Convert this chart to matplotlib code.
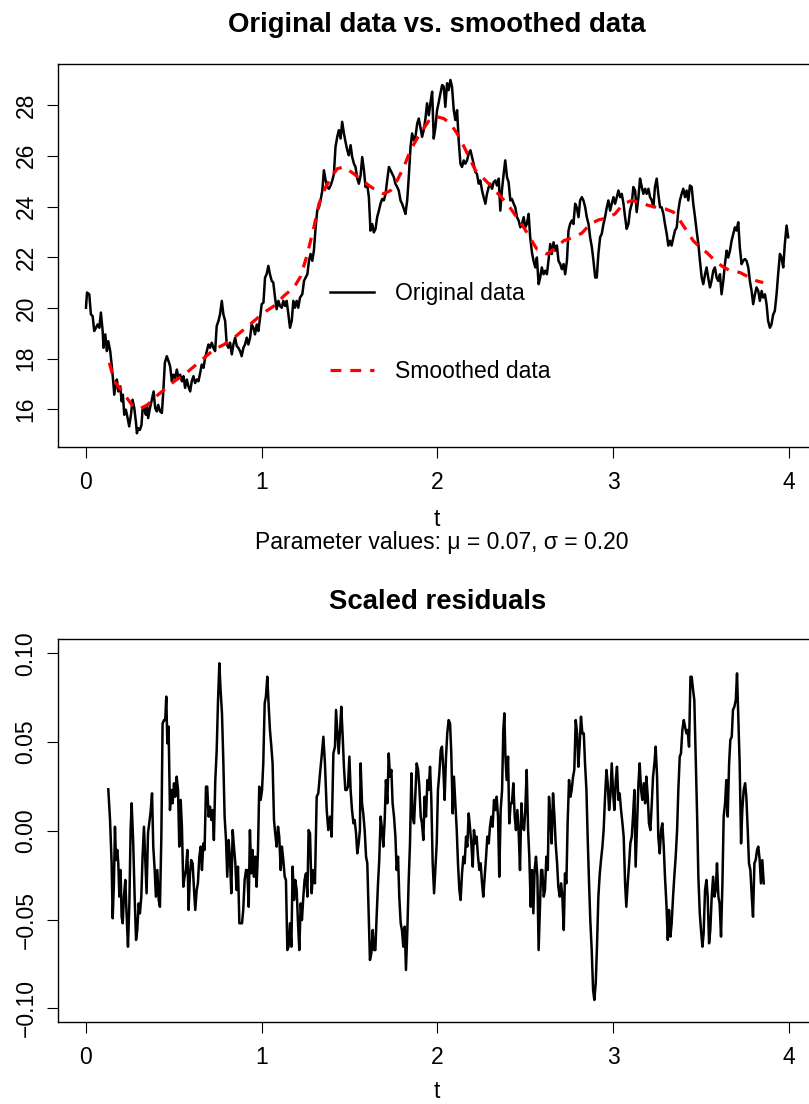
import numpy as np
import matplotlib
matplotlib.use("Agg")
import matplotlib.pyplot as plt

plt.rcParams['font.family'] = ['Liberation Sans', 'DejaVu Sans']

# ---------- Data ----------
t_orig = [
    0.000, 0.006, 0.019, 0.028, 0.038, 0.047, 0.057, 0.066, 0.076, 0.085,
    0.095, 0.100, 0.110, 0.119, 0.127, 0.138, 0.146, 0.155, 0.161, 0.171,
    0.176, 0.184, 0.195, 0.203, 0.210, 0.218, 0.227, 0.237, 0.246, 0.256,
    0.265, 0.275, 0.284, 0.290, 0.297, 0.307, 0.316, 0.322, 0.331, 0.341,
    0.347, 0.354, 0.364, 0.373, 0.385, 0.394, 0.403, 0.411, 0.422, 0.432,
    0.439, 0.449, 0.460, 0.470, 0.479, 0.489, 0.498, 0.508, 0.517, 0.527,
    0.536, 0.546, 0.555, 0.564, 0.574, 0.583, 0.593, 0.602, 0.612, 0.621,
    0.631, 0.640, 0.650, 0.659, 0.669, 0.678, 0.688, 0.697, 0.706, 0.716,
    0.725, 0.735, 0.744, 0.754, 0.763, 0.773, 0.782, 0.792, 0.801, 0.811,
    0.820, 0.830, 0.839, 0.849, 0.858, 0.867, 0.877, 0.886, 0.896, 0.905,
    0.915, 0.924, 0.934, 0.943, 0.953, 0.962, 0.972, 0.981, 0.991, 1.000,
    1.010, 1.019, 1.028, 1.038, 1.047, 1.057, 1.066, 1.076, 1.085, 1.095,
    1.104, 1.114, 1.123, 1.133, 1.142, 1.152, 1.161, 1.171, 1.180, 1.189,
    1.199, 1.208, 1.218, 1.231, 1.241, 1.250, 1.260, 1.269, 1.278, 1.288,
    1.297, 1.307, 1.316, 1.326, 1.335, 1.345, 1.354, 1.364, 1.373, 1.383,
    1.392, 1.402, 1.411, 1.420, 1.430, 1.439, 1.449, 1.458, 1.468, 1.477,
    1.487, 1.496, 1.506, 1.515, 1.525, 1.534, 1.544, 1.553, 1.563, 1.572,
    1.582, 1.591, 1.600, 1.610, 1.619, 1.629, 1.638, 1.648, 1.657, 1.667,
    1.676, 1.686, 1.695, 1.705, 1.714, 1.724, 1.733, 1.742, 1.752, 1.761,
    1.771, 1.780, 1.790, 1.799, 1.809, 1.818, 1.828, 1.837, 1.847, 1.856,
    1.866, 1.875, 1.885, 1.894, 1.903, 1.913, 1.922, 1.932, 1.941, 1.951,
    1.960, 1.970, 1.979, 1.989, 1.998, 2.008, 2.017, 2.027, 2.036, 2.045,
    2.055, 2.064, 2.074, 2.083, 2.093, 2.102, 2.112, 2.121, 2.131, 2.140,
    2.150, 2.159, 2.169, 2.178, 2.188, 2.197, 2.206, 2.216, 2.225, 2.235,
    2.244, 2.254, 2.263, 2.273, 2.282, 2.292, 2.301, 2.311, 2.320, 2.330,
    2.339, 2.349, 2.358, 2.367, 2.377, 2.386, 2.396, 2.405, 2.415, 2.424,
    2.434, 2.443, 2.453, 2.462, 2.472, 2.481, 2.491, 2.500, 2.509, 2.519,
    2.528, 2.538, 2.547, 2.557, 2.566, 2.576, 2.585, 2.594, 2.604, 2.613,
    2.623, 2.632, 2.642, 2.651, 2.661, 2.670, 2.680, 2.689, 2.699, 2.708,
    2.718, 2.727, 2.737, 2.746, 2.755, 2.765, 2.774, 2.784, 2.793, 2.803,
    2.812, 2.822, 2.831, 2.841, 2.850, 2.860, 2.869, 2.879, 2.888, 2.898,
    2.907, 2.916, 2.926, 2.935, 2.945, 2.954, 2.964, 2.973, 2.983, 2.992,
    3.002, 3.011, 3.021, 3.030, 3.040, 3.049, 3.059, 3.068, 3.077, 3.087,
    3.096, 3.106, 3.115, 3.125, 3.134, 3.144, 3.153, 3.163, 3.172, 3.182,
    3.191, 3.201, 3.210, 3.220, 3.229, 3.238, 3.248, 3.257, 3.267, 3.276,
    3.286, 3.295, 3.305, 3.314, 3.324, 3.333, 3.343, 3.352, 3.362, 3.371,
    3.380, 3.390, 3.399, 3.409, 3.418, 3.428, 3.437, 3.447, 3.456, 3.466,
    3.475, 3.485, 3.494, 3.504, 3.513, 3.523, 3.532, 3.541, 3.551, 3.560,
    3.570, 3.579, 3.589, 3.598, 3.608, 3.617, 3.627, 3.636, 3.646, 3.655,
    3.665, 3.674, 3.684, 3.693, 3.702, 3.712, 3.721, 3.731, 3.740, 3.750,
    3.759, 3.769, 3.778, 3.788, 3.797, 3.807, 3.816, 3.826, 3.835, 3.845,
    3.854, 3.864, 3.873, 3.882, 3.892, 3.901, 3.911, 3.920, 3.930, 3.939,
    3.949, 3.958, 3.968, 3.977, 3.987, 3.996,
]
y_orig = [
    20.01, 20.61, 20.54, 19.75, 19.68, 19.09, 19.22, 19.35, 19.22, 19.82,
    19.09, 18.43, 18.96, 18.30, 18.69, 18.30, 17.77, 17.11, 16.58, 17.11,
    17.18, 16.71, 16.91, 16.32, 16.58, 15.79, 15.99, 15.66, 15.33, 15.79,
    16.38, 16.05, 15.52, 15.06, 15.26, 15.19, 15.39, 15.99, 16.05, 15.79,
    16.18, 15.66, 16.05, 16.32, 16.71, 16.05, 15.92, 16.18, 15.92, 15.86,
    16.58, 17.84, 18.10, 17.90, 17.70, 17.11, 17.37, 17.24, 17.57, 17.24,
    17.37, 17.11, 17.31, 16.85, 17.18, 16.91, 16.71, 17.11, 17.31, 17.04,
    17.18, 17.11, 17.44, 17.77, 17.64, 18.03, 18.30, 18.56, 18.43, 18.63,
    18.43, 18.30, 19.29, 19.49, 19.75, 20.28, 19.75, 19.49, 18.56, 18.43,
    18.63, 18.17, 18.56, 18.83, 18.50, 18.43, 18.30, 18.10, 18.43, 18.56,
    18.83, 18.56, 18.83, 19.35, 19.22, 18.96, 19.35, 19.09, 19.62, 20.15,
    20.21, 21.20, 21.33, 21.66, 21.33, 21.07, 21.00, 20.41, 19.95, 20.28,
    20.08, 20.01, 20.28, 20.08, 20.28, 19.75, 19.22, 19.49, 20.28, 20.01,
    20.28, 20.01, 20.41, 20.54, 21.07, 21.20, 21.33, 21.86, 22.13, 21.86,
    22.26, 23.18, 23.84, 23.97, 24.24, 24.63, 25.43, 25.03, 24.77, 24.70,
    24.83, 25.03, 25.29, 26.35, 26.75, 27.01, 26.68, 27.34, 26.88, 26.55,
    26.22, 26.02, 26.42, 25.95, 25.69, 25.56, 25.10, 24.90, 25.23, 25.95,
    25.43, 24.77, 24.90, 24.37, 23.05, 23.31, 22.98, 23.12, 23.58, 23.84,
    24.11, 24.30, 24.24, 24.50, 25.03, 25.56, 25.43, 25.29, 25.16, 24.90,
    24.77, 24.63, 24.24, 24.11, 23.91, 23.71, 24.24, 25.16, 26.35, 26.88,
    26.61, 26.75, 27.27, 27.47, 27.14, 26.75, 27.01, 27.47, 28.07, 27.60,
    28.07, 28.53, 26.68, 27.14, 27.80, 28.13, 28.46, 28.79, 28.73, 27.93,
    28.86, 28.59, 28.99, 28.73, 27.80, 27.41, 27.80, 26.61, 25.69, 25.56,
    25.82, 25.69, 25.82, 26.09, 26.22, 25.95, 25.69, 25.36, 25.29, 24.90,
    25.03, 24.63, 24.37, 24.11, 24.50, 24.77, 24.90, 24.70, 24.96, 25.03,
    24.83, 25.10, 23.84, 24.63, 25.29, 25.82, 25.16, 24.96, 24.24, 24.30,
    24.11, 23.97, 23.58, 23.45, 23.18, 23.31, 23.58, 23.18, 23.31, 23.71,
    22.79, 22.19, 21.86, 21.60, 21.99, 20.94, 21.20, 21.60, 21.33, 21.47,
    21.33, 21.86, 22.52, 22.13, 22.59, 22.26, 22.46, 21.86, 21.73, 21.53,
    21.73, 21.33, 21.86, 23.05, 23.31, 23.45, 23.31, 24.11, 23.97, 23.58,
    24.24, 24.37, 24.24, 23.97, 23.58, 23.31, 22.79, 22.39, 21.86, 21.20,
    21.20, 22.13, 22.79, 22.92, 23.31, 23.58, 23.97, 24.24, 23.84, 24.11,
    24.37, 24.11, 24.37, 24.63, 24.37, 24.50, 24.11, 23.58, 23.12, 23.31,
    23.84, 24.11, 24.77, 24.63, 23.78, 24.37, 25.10, 24.77, 24.50, 24.70,
    24.50, 24.70, 24.37, 24.24, 23.97, 24.77, 25.10, 24.50, 23.97, 23.97,
    23.71, 23.31, 22.92, 22.46, 22.65, 22.46, 22.79, 23.05, 23.18, 23.84,
    24.24, 24.50, 24.70, 24.37, 24.63, 24.24, 24.83, 24.77, 24.11, 23.58,
    23.05, 22.52, 21.86, 21.20, 20.94, 21.33, 21.60, 21.20, 20.81, 21.07,
    21.47, 21.60, 21.20, 21.07, 21.33, 20.54, 21.07, 21.73, 22.26, 21.99,
    22.26, 22.65, 22.92, 23.18, 23.05, 23.38, 22.39, 21.73, 21.86, 21.93,
    21.86, 21.60, 21.07, 20.67, 20.15, 20.54, 20.81, 20.67, 20.28, 20.67,
    20.41, 20.54, 20.15, 19.49, 19.22, 19.35, 19.75, 19.88, 20.54, 21.33,
    22.13, 21.99, 21.60, 22.52, 23.25, 22.79,
]

t_smooth = [
    0.133, 0.161, 0.199, 0.227, 0.275, 0.313, 0.350, 0.388, 0.445, 0.502,
    0.559, 0.616, 0.672, 0.729, 0.786, 0.843, 0.900, 0.957, 1.013, 1.070,
    1.127, 1.184, 1.222, 1.260, 1.297, 1.326, 1.364, 1.402, 1.430, 1.468,
    1.525, 1.582, 1.638, 1.695, 1.733, 1.771, 1.809, 1.847, 1.884, 1.922,
    1.960, 1.998, 2.036, 2.074, 2.112, 2.150, 2.216, 2.311, 2.405, 2.491,
    2.566, 2.623, 2.680, 2.718, 2.774, 2.822, 2.869, 2.916, 2.964, 3.011,
    3.058, 3.106, 3.153, 3.201, 3.248, 3.295, 3.343, 3.380, 3.418, 3.456,
    3.494, 3.532, 3.570, 3.617, 3.665, 3.721, 3.769, 3.816, 3.854,
]
y_smooth = [
    17.84, 17.11, 16.78, 16.51, 16.05, 16.05, 16.18, 16.45, 16.78, 17.11,
    17.37, 17.70, 18.03, 18.36, 18.56, 18.83, 19.16, 19.49, 19.82, 20.08,
    20.48, 20.81, 21.25, 22.13, 23.18, 24.11, 24.77, 25.23, 25.49, 25.56,
    25.29, 24.96, 24.70, 24.50, 24.63, 25.03, 25.56, 26.22, 26.68, 27.08,
    27.47, 27.54, 27.47, 27.27, 26.88, 26.38, 25.43, 24.77, 24.04, 23.18,
    22.32, 22.13, 22.39, 22.65, 22.79, 22.95, 23.31, 23.47, 23.55, 23.71,
    24.11, 24.24, 24.17, 24.04, 23.97, 23.91, 23.78, 23.45, 23.05, 22.65,
    22.39, 22.19, 21.93, 21.66, 21.47, 21.40, 21.23, 21.07, 21.00,
]

t_resid = [
    0.127, 0.137, 0.146, 0.152, 0.159, 0.165, 0.171, 0.178, 0.184, 0.190,
    0.197, 0.203, 0.209, 0.216, 0.224, 0.231, 0.239, 0.247, 0.254, 0.260,
    0.269, 0.277, 0.285, 0.292, 0.300, 0.307, 0.315, 0.322, 0.330, 0.338,
    0.345, 0.353, 0.360, 0.368, 0.376, 0.383, 0.391, 0.398, 0.406, 0.414,
    0.421, 0.429, 0.436, 0.444, 0.451, 0.457, 0.463, 0.470, 0.478, 0.486,
    0.493, 0.501, 0.508, 0.516, 0.524, 0.531, 0.539, 0.546, 0.554, 0.561,
    0.569, 0.577, 0.584, 0.592, 0.599, 0.607, 0.615, 0.622, 0.630, 0.637,
    0.645, 0.653, 0.660, 0.668, 0.675, 0.683, 0.690, 0.698, 0.706, 0.713,
    0.721, 0.728, 0.736, 0.744, 0.751, 0.759, 0.766, 0.774, 0.782, 0.789,
    0.797, 0.804, 0.812, 0.819, 0.827, 0.835, 0.842, 0.850, 0.857, 0.865,
    0.873, 0.880, 0.888, 0.895, 0.903, 0.911, 0.918, 0.926, 0.933, 0.941,
    0.948, 0.956, 0.964, 0.971, 0.979, 0.986, 0.994, 1.002, 1.009, 1.017,
    1.024, 1.032, 1.040, 1.047, 1.055, 1.062, 1.070, 1.077, 1.085, 1.093,
    1.100, 1.108, 1.115, 1.123, 1.131, 1.138, 1.146, 1.153, 1.161, 1.169,
    1.176, 1.184, 1.191, 1.199, 1.206, 1.214, 1.222, 1.229, 1.237, 1.244,
    1.252, 1.260, 1.267,
    1.275, 1.284, 1.294, 1.303, 1.313, 1.322, 1.332, 1.341, 1.351, 1.360,
    1.370, 1.379, 1.389, 1.398, 1.408, 1.417, 1.423, 1.430, 1.438, 1.446,
    1.453, 1.461, 1.468, 1.476, 1.484, 1.491, 1.499, 1.506, 1.514, 1.522,
    1.529, 1.537, 1.544, 1.552, 1.559, 1.563, 1.571, 1.578, 1.586, 1.594,
    1.601, 1.609, 1.616, 1.624, 1.632, 1.639, 1.647, 1.654, 1.662, 1.669,
    1.677, 1.685, 1.692, 1.700, 1.707, 1.715, 1.723, 1.730, 1.738, 1.745,
    1.753, 1.761, 1.768, 1.776, 1.783, 1.791, 1.798, 1.806, 1.814, 1.821,
    1.829, 1.836, 1.844, 1.852, 1.859, 1.867, 1.874, 1.882, 1.890, 1.897,
    1.905, 1.912, 1.920, 1.927, 1.935, 1.943, 1.950, 1.958, 1.965, 1.973,
    1.981, 1.988, 1.996, 2.003, 2.011, 2.019, 2.026, 2.034, 2.041, 2.049,
    2.056, 2.064, 2.072, 2.079, 2.087, 2.094, 2.102, 2.110, 2.117, 2.125,
    2.132, 2.140, 2.148, 2.155, 2.163, 2.170, 2.178, 2.185, 2.193, 2.201,
    2.208, 2.216, 2.223, 2.231, 2.239, 2.246, 2.254, 2.261, 2.269, 2.277,
    2.284, 2.292, 2.299, 2.307, 2.314, 2.322, 2.330, 2.337, 2.345, 2.352,
    2.360, 2.368, 2.375, 2.381, 2.387, 2.394, 2.402, 2.409, 2.417, 2.424,
    2.432, 2.440, 2.447, 2.455, 2.462, 2.470, 2.478, 2.485, 2.493, 2.500,
    2.508, 2.516, 2.523, 2.531, 2.538, 2.546, 2.553, 2.561, 2.569, 2.576,
    2.590, 2.597, 2.605, 2.612, 2.620, 2.628, 2.635, 2.643, 2.650, 2.658,
    2.666, 2.673, 2.681, 2.688, 2.696, 2.704, 2.711, 2.719, 2.726, 2.734,
    2.741, 2.749, 2.757, 2.764, 2.772, 2.779, 2.787, 2.795, 2.802, 2.810,
    2.817, 2.825, 2.833, 2.840, 2.848, 2.855, 2.863, 2.870, 2.878, 2.886,
    2.893, 2.901, 2.908, 2.916, 2.924, 2.931, 2.939, 2.946, 2.954, 2.962,
    2.969, 2.977, 2.984, 2.992, 3.000, 3.007, 3.015, 3.022, 3.030, 3.037,
    3.045, 3.053, 3.060, 3.068, 3.075, 3.083, 3.091, 3.098, 3.106, 3.113,
    3.121, 3.128, 3.136, 3.144, 3.151, 3.159, 3.166, 3.174, 3.182, 3.189,
    3.197, 3.204, 3.212, 3.220, 3.227, 3.235, 3.242, 3.250, 3.257, 3.265,
    3.273, 3.280, 3.288, 3.295, 3.303, 3.311, 3.318, 3.326, 3.333, 3.341,
    3.348, 3.356, 3.364, 3.371, 3.379, 3.386, 3.394, 3.402, 3.409, 3.417,
    3.424, 3.432, 3.440, 3.447, 3.455, 3.462, 3.470, 3.478, 3.485, 3.493,
    3.500, 3.508, 3.515, 3.523, 3.531, 3.538, 3.546, 3.553, 3.561, 3.569,
    3.576, 3.584, 3.591, 3.599, 3.606, 3.614, 3.622, 3.629, 3.637, 3.644,
    3.652, 3.660, 3.667, 3.675, 3.682, 3.690, 3.698, 3.705, 3.713, 3.720,
    3.728, 3.735, 3.743, 3.751, 3.758, 3.766, 3.773, 3.781, 3.789, 3.796,
    3.804, 3.811, 3.819, 3.826, 3.834, 3.841, 3.849, 3.857,
]
y_resid = [
    0.0234, 0.0061, -0.0183, -0.0493, -0.0296, 0.0023, -0.0165, -0.0108, -0.0183, -0.0371,
    -0.0221, -0.0484, -0.0521, -0.0371, -0.0277, -0.0465, -0.0653, -0.0409, 0.0004, 0.0155,
    -0.0071, -0.0371, -0.0615, -0.0559, -0.0409, -0.0465, -0.0371, -0.0146, 0.0023, -0.0183,
    -0.0352, -0.0014, 0.0042, 0.0108, 0.0211, -0.0089, -0.0221, -0.0371, -0.0221, -0.0390,
    -0.0428, -0.0033, 0.0605, 0.0624, 0.0624, 0.0756, 0.0493, 0.0587, 0.0117, 0.0230,
    0.0155, 0.0268, 0.0192, 0.0305, 0.0230, -0.0089, 0.0174, 0.0023, -0.0315, -0.0259,
    -0.0221, -0.0108, -0.0446, -0.0240, -0.0165, -0.0183, -0.0334, -0.0446, -0.0334, -0.0296,
    -0.0146, -0.0089, -0.0221, -0.0071, -0.0108, 0.0249, 0.0249, 0.0080, 0.0136, 0.0061,
    0.0117, -0.0052, 0.0286, 0.0455, 0.0718, 0.0944, 0.0793, 0.0662, 0.0380, 0.0080,
    -0.0052, -0.0259, -0.0052, -0.0146, -0.0352, 0.0004, -0.0089, -0.0183, -0.0334, -0.0202,
    -0.0521, -0.0521, -0.0521, -0.0446, -0.0277, -0.0221, -0.0221, -0.0428, 0.0004, -0.0240,
    -0.0108, -0.0259, -0.0146, -0.0315, -0.0108, 0.0249, 0.0174, 0.0230, 0.0380, 0.0718,
    0.0756, 0.0868, 0.0699, 0.0568, 0.0474, 0.0380, 0.0061, -0.0014, -0.0089, 0.0023,
    -0.0033, -0.0221, -0.0089, -0.0165, -0.0259, -0.0277, -0.0672, -0.0653, -0.0521, -0.0653,
    -0.0202, -0.0390, -0.0277, -0.0334, -0.0503, -0.0672, -0.0409, -0.0503, -0.0371, -0.0277,
    -0.0240, -0.0371, 0.0004,
    -0.0014, -0.0352, -0.0221, -0.0296, 0.0192, 0.0211, 0.0324, 0.0418, 0.0530, 0.0380,
    0.0117, 0.0004, 0.0080, -0.0033, 0.0436, 0.0474, 0.0681, 0.0568, 0.0436, 0.0568,
    0.0699, 0.0530, 0.0361, 0.0230, 0.0230, 0.0249, 0.0418, 0.0230, 0.0117, 0.0042,
    0.0061, -0.0014, -0.0127, -0.0071, 0.0004, 0.0380, 0.0155, 0.0098, 0.0004, -0.0146,
    -0.0183, -0.0465, -0.0728, -0.0690, -0.0559, -0.0672, -0.0672, -0.0484, -0.0296, -0.0165,
    0.0080, 0.0004, -0.0089, 0.0061, 0.0286, 0.0155, 0.0436, 0.0305, 0.0343, 0.0155,
    0.0080, -0.0033, -0.0221, -0.0146, -0.0371, -0.0521, -0.0559, -0.0653, -0.0540, -0.0784,
    -0.0559, -0.0296, -0.0071, 0.0324, 0.0080, 0.0042, 0.0192, 0.0380, 0.0343, 0.0249,
    0.0080, 0.0042, -0.0052, 0.0192, 0.0080, 0.0286, 0.0230, 0.0361, 0.0192, -0.0183,
    -0.0352, -0.0221, -0.0071, 0.0230, 0.0324, 0.0455, 0.0474, 0.0343, 0.0174, 0.0418,
    0.0549, 0.0624, 0.0605, 0.0436, 0.0098, 0.0305, 0.0155, 0.0004, -0.0183, -0.0334,
    -0.0390, -0.0240, -0.0146, -0.0183, -0.0033, -0.0089, 0.0098, 0.0023, -0.0071, -0.0202,
    0.0004, -0.0071, -0.0033, -0.0146, -0.0221, -0.0183, -0.0296, -0.0371, -0.0259, -0.0146,
    -0.0033, -0.0071, 0.0023, 0.0080, 0.0023, 0.0174, 0.0117, 0.0192, 0.0080, -0.0259,
    0.0117, 0.0230, 0.0568, 0.0662, 0.0418, 0.0286, 0.0418, 0.0042, 0.0155, 0.0155,
    0.0268, 0.0080, 0.0004, 0.0117, 0.0004, -0.0221, 0.0155, 0.0023, 0.0004, 0.0117,
    0.0343, 0.0004, -0.0146, -0.0428, -0.0221, -0.0465, -0.0221, -0.0146, -0.0259, -0.0672,
    -0.0221, -0.0221, -0.0371, -0.0334, -0.0146, -0.0221, 0.0192, 0.0080, -0.0071, 0.0211,
    0.0080, -0.0071, -0.0183, -0.0315, -0.0371, -0.0296, -0.0371, -0.0559, -0.0240, -0.0296,
    0.0042, 0.0286, 0.0192, 0.0230, 0.0305, 0.0343, 0.0624, 0.0549, 0.0361, 0.0493,
    0.0643, 0.0549, 0.0549, 0.0380, 0.0230, -0.0033, -0.0296, -0.0503, -0.0672, -0.0897,
    -0.0953, -0.0859, -0.0653, -0.0371, -0.0240, -0.0165, -0.0089, 0.0004, 0.0192, 0.0343,
    0.0268, 0.0117, 0.0192, 0.0380, 0.0211, 0.0117, 0.0286, 0.0361, 0.0174, 0.0211,
    0.0117, 0.0042, -0.0033, -0.0296, -0.0428, -0.0296, -0.0183, -0.0071, -0.0033, 0.0080,
    0.0230, -0.0202, 0.0042, 0.0268, 0.0380, 0.0230, 0.0174, 0.0268, 0.0155, 0.0305,
    0.0192, 0.0042, 0.0004, 0.0155, 0.0305, 0.0380, 0.0474, 0.0305, -0.0033, -0.0127,
    0.0004, 0.0042, -0.0089, -0.0259, -0.0409, -0.0615, -0.0446, -0.0596, -0.0521, -0.0371,
    -0.0259, -0.0146, 0.0004, 0.0230, 0.0418, 0.0436, 0.0568, 0.0624, 0.0587, 0.0549,
    0.0568, 0.0474, 0.0868, 0.0868, 0.0793, 0.0737, 0.0418, 0.0080, -0.0259, -0.0465,
    -0.0559, -0.0653, -0.0578, -0.0334, -0.0277, -0.0371, -0.0634, -0.0559, -0.0371, -0.0259,
    -0.0371, -0.0334, -0.0183, -0.0371, -0.0409, -0.0596, -0.0296, 0.0080, 0.0155, 0.0286,
    0.0080, 0.0380, 0.0512, 0.0530, 0.0681, 0.0699, 0.0737, 0.0887, 0.0624, 0.0380,
    -0.0071, 0.0117, 0.0230, 0.0268, 0.0192, 0.0004, -0.0183, -0.0221, -0.0371, -0.0484,
    -0.0183, -0.0165, -0.0108, -0.0089, -0.0165, -0.0296, -0.0165, -0.0296,
]

mu_hat = 0.07
sigma_hat = 0.20

x_ticks = [0, 1, 2, 3, 4]
y_ticks_top = [16, 18, 20, 22, 24, 26, 28]
y_ticks_res = [-0.10, -0.05, 0.00, 0.05, 0.10]

# ---------- Figure layout (pixel based, R style) ----------
W, H = 809, 1104
fig = plt.figure(figsize=(W / 100, H / 100), dpi=100)


def px_box(left, top, right, bottom):
    return [left / W, 1 - bottom / H, (right - left) / W, (bottom - top) / H]


ax1 = fig.add_axes(px_box(57.5, 64, 816.8, 446.7))
ax2 = fig.add_axes(px_box(57.5, 639.3, 816.8, 1022.3))

FS = 16.5
TFS = 19.8

# ---------- Top panel ----------
ax1.plot(t_orig, y_orig, color="black", lw=1.8, label="Original data")
ax1.plot(t_smooth, y_smooth, color="red", lw=2.3, ls=(0, (3.4, 2.8)), label="Smoothed data")
ax1.set_xlim(-0.162, 4.159)
ax1.set_ylim(14.53, 29.62)
ax1.set_xticks(x_ticks)
ax1.set_yticks(y_ticks_top, [str(v) for v in y_ticks_top], rotation=90, va="center")
ax1.set_title("Original data vs. smoothed data", fontsize=TFS, fontweight="bold", pad=23)

ax1.legend(loc="upper left", bbox_to_anchor=(0.3589, 0.430), frameon=False,
           fontsize=FS, handlelength=1.92, handletextpad=0.92, labelspacing=2.40,
           borderpad=0, borderaxespad=0)

# ---------- Bottom panel ----------
ax2.plot(t_resid, y_resid, color="black", lw=1.8)
ax2.set_xlim(-0.162, 4.159)
ax2.set_ylim(-0.1079, 0.1079)
ax2.set_xticks(x_ticks)
ax2.set_yticks(y_ticks_res, [f"{v:.2f}".replace("-", "\u2212") for v in y_ticks_res],
               rotation=90, va="center")
ax2.set_title("Scaled residuals", fontsize=TFS, fontweight="bold", pad=22)

for ax in (ax1, ax2):
    ax.tick_params(direction="out", length=7.7, width=0.8, labelsize=FS)
    ax.tick_params(axis="x", pad=9.5)
    ax.tick_params(axis="y", pad=6.7)
    for sp in ax.spines.values():
        sp.set_linewidth(1.0)

# axis labels and subtitle
xc = 437.15 / W
fig.text(xc, 1 - 526 / H, "t", ha="center", va="baseline", fontsize=FS)
fig.text(442 / W, 1 - 549 / H,
         f"Parameter values: \u03bc = {mu_hat:.2f}, \u03c3 = {sigma_hat:.2f}",
         ha="center", va="baseline", fontsize=FS)
fig.text(xc, 1 - 1097.5 / H, "t", ha="center", va="baseline", fontsize=FS)

fig.savefig("out.png", dpi=100)
